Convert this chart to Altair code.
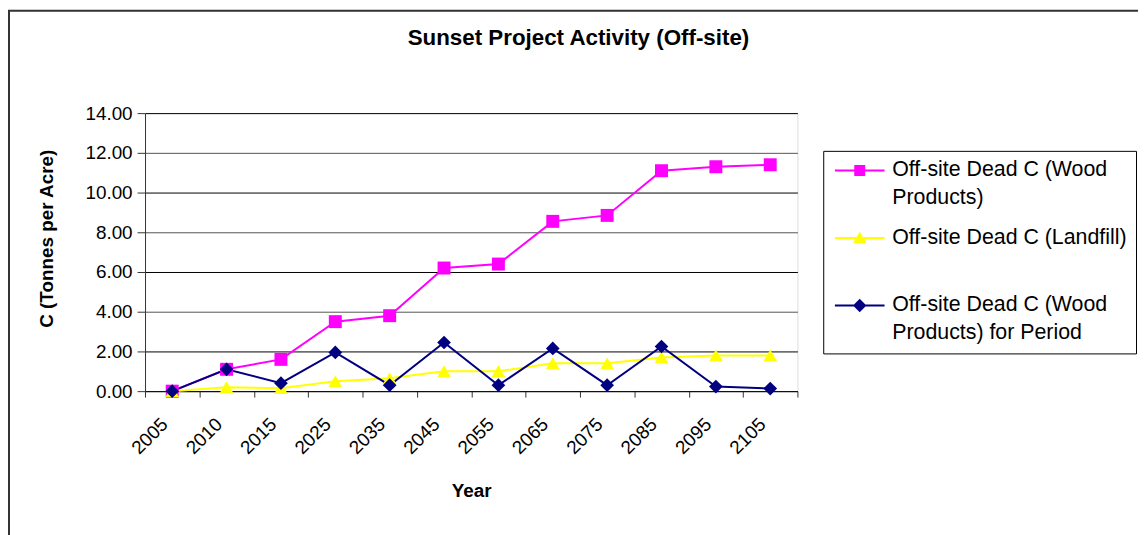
import altair as alt
import pandas as pd

years = ["2005", "2010", "2015", "2025", "2035", "2045", "2055", "2065", "2075", "2085", "2095", "2105"]
wood_products = [0.0, 1.1, 1.6, 3.5, 3.8, 6.2, 6.4, 8.55, 8.85, 11.1, 11.3, 11.4]
landfill = [0.0, 0.2, 0.15, 0.5, 0.65, 1.0, 1.0, 1.4, 1.4, 1.7, 1.8, 1.8]
wood_period = [0.0, 1.1, 0.4, 1.95, 0.3, 2.45, 0.3, 2.15, 0.3, 2.25, 0.23, 0.13]

series_names = [
    "Off-site Dead C (Wood|Products)",
    "Off-site Dead C (Landfill)|",
    "Off-site Dead C (Wood|Products) for Period",
]
series_colors = ["#FF00FF", "#FFFF00", "#000080"]
marker_shapes = ["square", "triangle-up", "diamond"]
marker_sizes = [170, 190, 190]
legend_shapes = [
    "M-1.6,-0.2H8.4V0.2H-1.6Z M2.3,-1.1H4.5V1.1H2.3Z",
    "M-1.6,-0.2H8.4V0.2H-1.6Z M3.4,-1.25L4.75,1L2.05,1Z",
    "M-1.6,-0.2H8.4V0.2H-1.6Z M3.4,-1.35L4.75,0L3.4,1.35L2.05,0Z",
]

rows = []
for name, vals in zip(series_names, [wood_products, landfill, wood_period]):
    for y, v in zip(years, vals):
        rows.append({"Year": y, "series": name, "value": v})
df = pd.DataFrame(rows)

FONT = "Liberation Sans"

x_enc = alt.X(
    "Year:O",
    sort=years,
    scale=alt.Scale(type="band", paddingInner=0, paddingOuter=0),
    bandPosition=0.5,
    axis=alt.Axis(
        title="Year",
        titleFont=FONT, titleFontSize=19, titleFontWeight="bold", titleColor="black",
        titleY=100, titleBaseline="middle",
        labelFont=FONT, labelFontSize=19, labelColor="black", labelAngle=-45,
        labelAlign="right", labelBaseline="middle", labelPadding=24, labelOffset=-8,
        tickBand="extent", tickSize=6, tickColor="#333333",
        domainColor="black", grid=False,
    ),
)
y_enc = alt.Y(
    "value:Q",
    scale=alt.Scale(domain=[0, 14], nice=False),
    axis=alt.Axis(
        title="C (Tonnes per Acre)",
        titleFont=FONT, titleFontSize=19, titleFontWeight="bold", titleColor="black",
        titleX=-99, titleY=126, titleBaseline="middle", titleAlign="center",
        labelFont=FONT, labelFontSize=19, labelColor="black", labelPadding=5,
        values=[0, 2, 4, 6, 8, 10, 12, 14], format=".2f",
        tickSize=8, tickColor="#333333", domainColor="#333333",
        grid=True,
        gridColor=alt.ConditionalAxisColor(condition={"test": "datum.value % 4 == 0", "value": "#555555"}, value="#000000"),
        gridOpacity=1,
    ),
)

base = alt.Chart(df)

line_layers = []
point_layers = []
for name, col, shp, sz in zip(series_names, series_colors, marker_shapes, marker_sizes):
    line_layers.append(
        base.mark_line(strokeWidth=2, color=col)
        .encode(x=x_enc, y=y_enc)
        .transform_filter(alt.datum.series == name)
    )
    point_layers.append(
        base.mark_point(filled=True, shape=shp, size=sz, color=col, opacity=1)
        .encode(x=x_enc, y=y_enc)
        .transform_filter(alt.datum.series == name)
    )

legend_props = dict(
    title=None, orient="none", legendX=683, legendY=38,
    labelFont=FONT, labelFontSize=21.5, labelColor="black", labelLimit=400,
    labelExpr="split(datum.label, '|')", labelOffset=39,
    symbolSize=100, symbolStrokeWidth=0, symbolOpacity=1,
    strokeColor="black", fillColor="white", padding=9, rowPadding=17,
)

legend_layer = base.mark_point(filled=True).encode(
    x=x_enc, y=y_enc,
    color=alt.Color("series:N", scale=alt.Scale(domain=series_names, range=series_colors),
                    legend=alt.Legend(**legend_props)),
    shape=alt.Shape("series:N", scale=alt.Scale(domain=series_names, range=legend_shapes),
                    legend=alt.Legend(**legend_props)),
).transform_filter("false")

frame = alt.Chart(alt.Data(values=[{}])).mark_rect(
    fill=None, stroke="#333333", strokeWidth=2
).encode(
    x=alt.value(-137), x2=alt.value(1004), y=alt.value(-103), y2=alt.value(428)
)

chart = alt.layer(frame, *line_layers, *point_layers, legend_layer).properties(
    width=657, height=280,
    title=alt.TitleParams(
        "Sunset Project Activity (Off-site)",
        font=FONT, fontSize=22.5, fontWeight="bold", color="black",
        anchor="middle", dx=108, offset=0, dy=40,
    ),
    autosize=alt.AutoSizeParams(type="none"),
    padding={"left": 138, "top": 104, "right": 343, "bottom": 143},
).configure_view(
    fill="#C0C0C0", stroke="#808080", strokeWidth=1
).configure(
    background="white",
    style={"guide-label": {"lineHeight": 28}},
)

chart.save("out.html", embed_options={"renderer": "svg", "actions": False})
